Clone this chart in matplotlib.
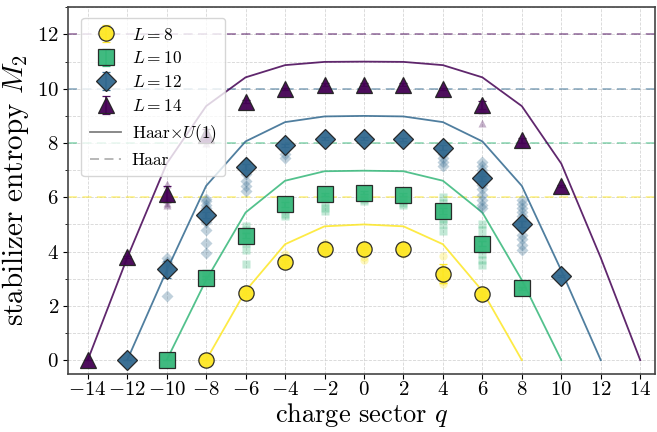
import numpy as np
import matplotlib.pyplot as plt
from matplotlib.ticker import MultipleLocator

plt.rcParams['font.family'] = 'serif'
plt.rcParams['font.serif'] = ['cmr10']
plt.rcParams['mathtext.fontset'] = 'cm'
plt.rcParams['axes.formatter.use_mathtext'] = True

# system sizes and viridis-like colours
sizes = [8, 10, 12, 14]
colors = ['#fde725', '#35b779', '#31688e', '#440154']
markers = ['o', 's', 'D', '^']

# Haar x U(1) curves (one value per even q from -L to L)
haar_u1 = {
    8:  [0, 2.55, 4.27, 4.93, 5.0, 4.93, 4.27, 2.55, 0],
    10: [0, 2.95, 5.44, 6.61, 6.96, 6.98, 6.96, 6.61, 5.44, 2.95, 0],
    12: [0, 3.3, 6.42, 8.06, 8.77, 8.98, 9.0, 8.98, 8.77, 8.06, 6.42, 3.3, 0],
    14: [0, 3.77, 7.24, 9.36, 10.42, 10.87, 10.99, 11.0, 10.99, 10.87,
         10.42, 9.36, 7.24, 3.77, 0],
}

# mean data, starting at q = -L
mean_8 = [0, 2.49, 3.61, 4.11, 4.11, 4.1, 3.18, 2.43]
mean_10 = [0, 3.04, 4.59, 5.74, 6.11, 6.17, 6.09, 5.5, 4.29, 2.65]
mean_12 = [0, 3.34, 5.35, 7.12, 7.91, 8.16, 8.16, 8.14, 7.83, 6.7, 5.02, 3.1]
mean_14 = [0, 3.8, 6.12, 8.3, 9.52, 9.99, 10.15, 10.15, 10.15, 9.99, 9.4,
           8.1, 6.42]
err_8 = [0, 0.08, 0.08, 0.06, 0.06, 0.06, 0.35, 0.1]
err_10 = [0, 0.06, 0.1, 0.08, 0.06, 0.05, 0.06, 0.1, 0.1, 0.05]
err_12 = [0, 0.3, 0.1, 0.1, 0.05, 0.05, 0.05, 0.05, 0.08, 0.1, 0.1, 0.05]
err_14 = [0, 0.05, 0.3, 0.2, 0.05, 0.05, 0.05, 0.05, 0.05, 0.05, 0.15,
          0.1, 0.05]
means = {8: mean_8, 10: mean_10, 12: mean_12, 14: mean_14}
errs = {8: err_8, 10: err_10, 12: err_12, 14: err_14}

# individual samples (faint points)
samples_8 = {-6: [2.6, 2.5, 2.35], -4: [3.9, 3.75, 3.55, 3.5],
             -2: [4.3, 4.2, 4.0, 3.95], 0: [4.2, 3.95, 3.8, 3.7],
             2: [4.2, 4.0, 3.9], 4: [3.85, 3.4, 3.0, 2.9, 2.8],
             6: [2.6, 2.5, 2.35, 2.3]}
samples_10 = {-8: [3.2, 3.1, 2.95], -6: [4.95, 4.8, 4.6, 4.3, 4.05, 3.55],
              -4: [5.9, 5.6, 5.4, 5.3], -2: [6.0, 5.8, 5.6, 5.5],
              0: [6.05, 5.95, 5.85], 2: [6.0, 5.9, 5.8, 5.7],
              4: [6.0, 5.8, 5.6, 5.4, 5.2, 5.0, 4.75],
              6: [5.0, 4.8, 4.5, 4.1, 3.9, 3.7, 3.5], 8: [2.75, 2.6]}
samples_12 = {-10: [3.75, 3.6, 3.45, 2.35],
              -8: [5.95, 5.85, 5.7, 5.6, 5.45, 5.25, 5.1, 4.8, 4.3, 3.95],
              -6: [7.3, 7.0, 6.85, 6.6, 6.4, 6.25], -4: [7.6, 7.45],
              4: [7.6, 7.45, 7.3, 7.15],
              6: [7.3, 7.15, 7.0, 6.9, 6.75, 6.6, 6.45, 6.3, 6.1, 5.9, 5.7, 5.6],
              8: [5.9, 5.75, 5.6, 5.45, 5.3, 5.15, 4.85, 4.6, 4.45, 4.25, 4.05]}
samples_14 = {-10: [6.5, 6.3, 5.95, 5.8, 5.7], -8: [8.4, 8.2, 8.0],
              6: [9.2, 8.75], 8: [7.95]}
samples = {8: samples_8, 10: samples_10, 12: samples_12, 14: samples_14}

fig, ax = plt.subplots(figsize=(6.57, 4.32), dpi=100)
fig.subplots_adjust(left=0.1035, right=0.997, top=0.983, bottom=0.135)

handles = []
for L, c, m in zip(sizes, colors, markers):
    # Haar reference
    ax.axhline(L - 2, color=c, ls=(0, (5, 3)), lw=1.3, alpha=0.5, zorder=1)
    q_full = np.arange(-L, L + 1, 2)
    ax.plot(q_full, haar_u1[L], color=c, lw=1.3, alpha=0.85, zorder=2)
    for q, vals in samples[L].items():
        ax.plot([q] * len(vals), vals, ls='none', marker=m, ms=6,
                color=c, alpha=0.3, mec='none', zorder=3)
    q_data = np.arange(-L, -L + 2 * len(means[L]), 2)
    ms = 10 if m == 'D' else 11
    h = ax.errorbar(q_data, means[L], yerr=errs[L], fmt=m, ms=ms, color=c,
                    mec='#222222', mew=0.9, ecolor=c, elinewidth=1.2,
                    capsize=3, alpha=0.95, zorder=4, label=r'$L=%d$' % L)
    handles.append(h)

h_u1, = ax.plot([], [], color='gray', lw=1.3, label=r'Haar$\times U(1)$')
h_haar, = ax.plot([], [], color='gray', ls=(0, (5, 3)), lw=1.3, alpha=0.6,
                  label='Haar')
handles += [h_u1, h_haar]

ax.set_xlim(-15.0, 14.75)
ax.set_ylim(-0.5, 13)
ax.set_xticks(np.arange(-14, 15, 2))
ax.set_yticks(np.arange(0, 13, 2))
ax.yaxis.set_minor_locator(MultipleLocator(1))
ax.tick_params(labelsize=15, pad=3)
ax.tick_params(axis='x', pad=2)
ax.grid(True, which='major', ls='--', lw=0.6, color='#cccccc', alpha=0.8)
ax.grid(True, which='minor', axis='y', ls='--', lw=0.6, color='#cccccc',
        alpha=0.8)
ax.set_axisbelow(True)
for s in ax.spines.values():
    s.set_color('#444444')
    s.set_linewidth(1.2)

ax.set_xlabel(r'charge sector $q$', fontsize=19, labelpad=1)
ax.set_ylabel(r'stabilizer entropy $M_2$', fontsize=21, labelpad=4)

ax.legend(handles=handles, loc='upper left', fontsize=12.5, framealpha=0.8,
          borderpad=0.5, handlelength=1.8, handletextpad=0.6,
          labelspacing=0.45, bbox_to_anchor=(0.008, 0.995))

fig.savefig('out.png', dpi=100)
